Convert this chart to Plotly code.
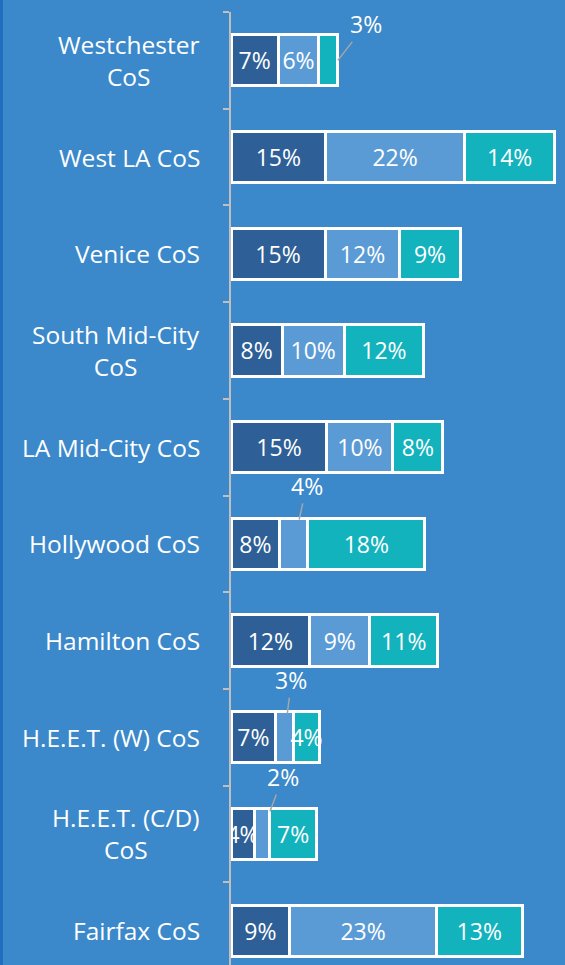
import plotly.graph_objects as go

# categories, top to bottom
CATEGORIES = [
    "Westchester<br>CoS", "West LA CoS", "Venice CoS", "South Mid-City<br>CoS",
    "LA Mid-City CoS", "Hollywood CoS", "Hamilton CoS", "H.E.E.T. (W) CoS",
    "H.E.E.T. (C/D)<br>CoS", "Fairfax CoS",
]
# three stacked shares (%)
SERIES_1 = [7.4, 14.8, 14.7, 8.0, 15.0, 7.6, 12.3, 7.0, 3.6, 9.2]
SERIES_2 = [6.3, 21.7, 11.7, 9.7, 10.3, 4.4, 9.4, 2.7, 2.4, 22.9]
SERIES_3 = [3.0, 14.1, 9.4, 12.4, 7.8, 18.3, 10.6, 4.2, 7.4, 13.4]
SERIES_NAMES = ["Series 1", "Series 2", "Series 3"]
# (category, series index) whose label sits outside with a leader line
OUTSIDE = [("Westchester<br>CoS", 2), ("Hollywood CoS", 1),
           ("H.E.E.T. (W) CoS", 1), ("H.E.E.T. (C/D)<br>CoS", 1)]

BG = "#3B88CA"
COLORS = ["#2E5F96", "#5B9BD5", "#12B3BD"]
FONT = "Open Sans"

series = [SERIES_1, SERIES_2, SERIES_3]
fig = go.Figure()
for k, (vals, name, col) in enumerate(zip(series, SERIES_NAMES, COLORS)):
    txt = ["" if (c, k) in OUTSIDE else f"{v:.0f}%" for c, v in zip(CATEGORIES, vals)]
    fig.add_trace(go.Bar(
        y=CATEGORIES, x=vals, name=name, orientation="h",
        marker=dict(color=col, line=dict(color="white", width=3)),
        text=txt, textposition="inside", insidetextanchor="middle",
        textangle=0, constraintext="none",
        textfont=dict(family=FONT, size=23, color="white"),
        hoverinfo="x+y",
    ))

annotations = []
# category labels: centred lines, right-aligned block
for c in CATEGORIES:
    annotations.append(dict(
        x=0, xref="paper", y=c, yref="y", text=c, showarrow=False,
        xanchor="right", xshift=-29, align="center",
        font=dict(family=FONT, size=24.5, color="white"),
    ))

# outside labels with leader lines
offsets = {
    ("Westchester<br>CoS", 2): (28, -36, 0, "end"),
    ("Hollywood CoS", 1): (13, -58, 25, "mid"),
    ("H.E.E.T. (W) CoS", 1): (7, -57, 24, "mid"),
    ("H.E.E.T. (C/D)<br>CoS", 1): (21, -57, 24, "mid"),
}
for (c, k), (ax, ay, stand, where) in offsets.items():
    i = CATEGORIES.index(c)
    base = sum(series[j][i] for j in range(k))
    v = series[k][i]
    xpos = base + v if where == "end" else base + v / 2
    annotations.append(dict(
        x=xpos, y=c, xref="x", yref="y", text=f"{v:.0f}%",
        showarrow=True, arrowhead=0, arrowwidth=1.5, arrowcolor="#A6A6A6",
        ax=ax, ay=ay, standoff=stand,
        font=dict(family=FONT, size=23, color="white"),
    ))

fig.update_layout(
    width=565, height=965,
    margin=dict(l=231, r=0, t=12, b=0),
    barmode="stack", bargap=0.47,
    paper_bgcolor=BG, plot_bgcolor=BG,
    showlegend=False,
    font=dict(family=FONT, color="white"),
    annotations=annotations,
    xaxis=dict(range=[0, 52.2], visible=False, fixedrange=True),
    yaxis=dict(
        categoryorder="array", categoryarray=CATEGORIES,
        range=[9.355, -0.5], showticklabels=False, showgrid=False,
        showline=True, linecolor="#BFBFBF", linewidth=2,
        ticks="outside", tickson="boundaries", ticklen=6,
        tickcolor="#BFBFBF", tickwidth=2, zeroline=False,
    ),
    shapes=[dict(type="rect", xref="paper", yref="paper",
                 x0=-231 / 334, x1=-228 / 334, y0=-0.01, y1=1.02,
                 fillcolor="#1F6EBF", line=dict(width=0), layer="below")],
)

# drop the default page margin so the chart fills the window exactly
fig.write_html(
    "out.html",
    config={"displayModeBar": False},
    post_script="document.body.style.margin='0';document.body.style.overflow='hidden';",
)
